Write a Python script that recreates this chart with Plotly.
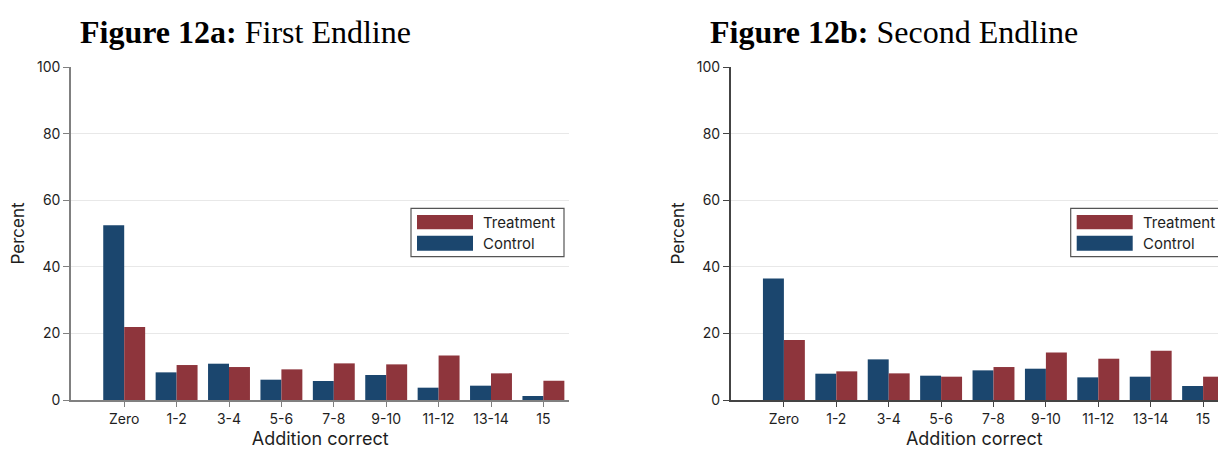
import plotly.graph_objects as go

W, H = 1218, 450

categories = ["Zero", "1-2", "3-4", "5-6", "7-8", "9-10", "11-12", "13-14", "15"]
control_first = [52.5, 8.3, 10.9, 6.1, 5.7, 7.5, 3.7, 4.3, 1.2]
treatment_first = [21.9, 10.5, 9.9, 9.2, 11.0, 10.7, 13.4, 8.0, 5.8]
control_second = [36.5, 7.9, 12.2, 7.3, 8.9, 9.4, 6.8, 7.0, 4.2]
treatment_second = [18.0, 8.6, 8.0, 7.0, 9.9, 14.3, 12.4, 14.8, 7.0]
yticks = [0, 20, 40, 60, 80, 100]

NAVY = "#1b466e"
MAROON = "#8e353c"
TICKFONT = dict(family="Inter, Roboto, sans-serif", size=14, color="#1e1e1e")
LEGFONT = dict(family="Inter, Roboto, sans-serif", size=15, color="#1e1e1e")
XTITLEFONT = dict(family="Inter, Roboto, sans-serif", size=18, color="#1e1e1e")
YTITLEFONT = dict(family="Inter, Roboto, sans-serif", size=17, color="#1e1e1e")

# plot area geometry in pixels
PLOT_TOP, PLOT_BOTTOM = 67.0, 400.0
SPACING = 52.4
panels = [
    dict(x0=71.0, x1=569.3, title="<b>Figure 12a:</b> First Endline", tx=78,
         ctrl=control_first, trt=treatment_first, axcol="#808080", xa="x", ya="y"),
    dict(x0=730.7, x1=1218.0, title="<b>Figure 12b:</b> Second Endline", tx=708,
         ctrl=control_second, trt=treatment_second, axcol="#444444", xa="x2", ya="y2"),
]

fig = go.Figure()
shapes = []
annotations = []

def px(x):
    return x / W

def py(y):
    return 1 - y / H

layout = {}
for i, p in enumerate(panels):
    fig.add_trace(go.Bar(x=categories, y=p["ctrl"], name="Control", marker_color=NAVY,
                         marker_line_width=0, xaxis=p["xa"], yaxis=p["ya"], showlegend=False))
    fig.add_trace(go.Bar(x=categories, y=p["trt"], name="Treatment", marker_color=MAROON,
                         marker_line_width=0, xaxis=p["xa"], yaxis=p["ya"], showlegend=False))
    zero_px = p["x0"] + 53.2
    r0 = -(zero_px - p["x0"]) / SPACING
    r1 = r0 + (p["x1"] - p["x0"]) / SPACING
    suffix = "" if i == 0 else "2"
    layout["xaxis" + suffix] = dict(
        domain=[px(p["x0"]), px(p["x1"])], range=[r0, r1], anchor="y" + suffix,
        automargin=False,
        showline=True, linecolor=p["axcol"], linewidth=1.5, ticks="outside", ticklen=5,
        tickcolor=p["axcol"], tickfont=TICKFONT, showgrid=False, zeroline=False,
        title=dict(text="Addition correct", font=XTITLEFONT, standoff=7),
        categoryorder="array", categoryarray=categories, fixedrange=True,
    )
    layout["yaxis" + suffix] = dict(
        domain=[py(PLOT_BOTTOM), py(PLOT_TOP)], range=[0, 100], anchor="x" + suffix,
        automargin=False,
        tickvals=yticks, showline=True, linecolor=p["axcol"], linewidth=1.5,
        ticks="outside", ticklen=6, tickcolor=p["axcol"], tickfont=TICKFONT,
        showgrid=True, gridcolor="#e8e8e8", gridwidth=1, zeroline=False,
        title=dict(text="Percent", font=YTITLEFONT, standoff=8), fixedrange=True,
    )
    # title
    annotations.append(dict(x=px(p["tx"]), y=py(32), xref="paper", yref="paper",
                            xanchor="left", yanchor="middle", showarrow=False,
                            text=p["title"],
                            font=dict(family="Liberation Serif, Times New Roman, serif",
                                      size=32, color="#000000")))
    # custom legend
    ox = p["x0"]
    shapes.append(dict(type="rect", xref="paper", yref="paper",
                       x0=px(ox + 340), x1=px(ox + 493), y0=py(208.3), y1=py(256.7),
                       line=dict(color="#555555", width=1.2), fillcolor="white", layer="above"))
    for label, color, ya, yb, yc in [("Treatment", MAROON, 215.0, 229.3, 222.5),
                                      ("Control", NAVY, 235.7, 250.7, 243.5)]:
        shapes.append(dict(type="rect", xref="paper", yref="paper",
                           x0=px(ox + 346), x1=px(ox + 402), y0=py(ya), y1=py(yb),
                           line=dict(width=0), fillcolor=color, layer="above"))
        annotations.append(dict(x=px(ox + 410), y=py(yc), xref="paper", yref="paper",
                                xanchor="left", yanchor="middle", showarrow=False,
                                text=label, font=LEGFONT))

fig.update_layout(
    width=W, height=H, margin=dict(l=0, r=0, t=0, b=0, autoexpand=False),
    paper_bgcolor="white", plot_bgcolor="white",
    barmode="group", bargap=0.2, bargroupgap=0,
    shapes=shapes, annotations=annotations, **layout,
)

fig.write_html("out.html", config={"displayModeBar": False})
